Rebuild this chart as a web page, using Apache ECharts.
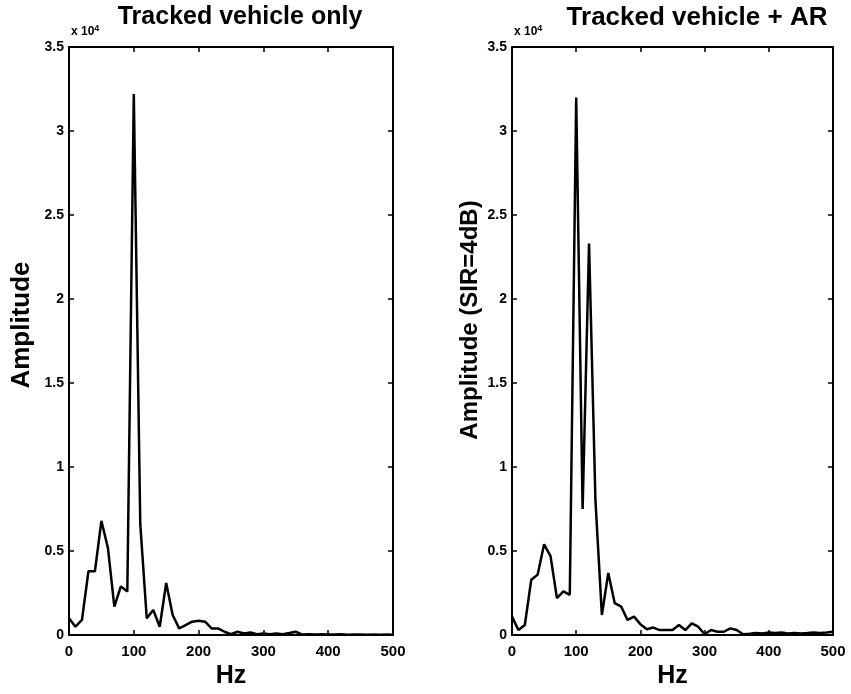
<!DOCTYPE html>
<html>
<head>
<meta charset="utf-8">
<script src="https://cdn.jsdelivr.net/npm/echarts@6/dist/echarts.min.js"></script>
<style>
  html, body { margin: 0; padding: 0; background: #fff; }
  #chart { width: 851px; height: 694px; }
</style>
</head>
<body>
<div id="chart"></div>
<script>
// frequency bins (Hz) and amplitudes in units of 10^4
const hz = [0,10,20,30,40,50,60,70,80,90,100,110,120,130,140,150,160,170,180,190,
  200,210,220,230,240,250,260,270,280,290,300,310,320,330,340,350,360,370,380,390,
  400,410,420,430,440,450,460,470,480,490,500];
const vehicleOnly = [0.1,0.05,0.09,0.38,0.38,0.68,0.52,0.17,0.29,0.26,3.22,0.66,0.1,0.15,0.05,0.31,0.12,0.04,0.06,0.08,
  0.085,0.08,0.04,0.04,0.02,0.005,0.02,0.01,0.015,0.005,0.01,0.005,0.01,0.005,0.012,0.02,0.003,0.005,0.003,0.005,
  0.004,0.003,0.005,0.002,0.003,0.004,0.002,0.003,0.002,0.003,0.002];
const vehicleAR = [0.11,0.03,0.06,0.33,0.36,0.54,0.47,0.22,0.26,0.24,3.2,0.75,2.33,0.8,0.12,0.37,0.19,0.17,0.09,0.11,
  0.065,0.035,0.045,0.03,0.03,0.03,0.06,0.03,0.07,0.05,0.005,0.03,0.02,0.02,0.04,0.03,0.005,0.008,0.012,0.01,
  0.015,0.012,0.015,0.01,0.012,0.01,0.012,0.015,0.012,0.015,0.02];
const xTicks = [0, 500, 100];
const yTicks = [0, 3.5, 0.5];
const titles = ['Tracked vehicle only', 'Tracked vehicle + AR'];
const yNames = ['Amplitude', 'Amplitude (SIR=4dB)'];

const font = 'Liberation Sans, Arial, sans-serif';
const grids = [
  { left: 69, width: 324, top: 47, height: 591 },
  { left: 512, width: 321, top: 47, height: 591 }
];
const line = { color: '#000', width: 2 };
const tick = { show: true, inside: true, length: 5, lineStyle: { color: '#000', width: 1.5 } };

const xAxis = [], yAxis = [], series = [];
grids.forEach((g, i) => {
  const base = { min: xTicks[0], max: xTicks[1], interval: xTicks[2], type: 'value', gridIndex: i,
    splitLine: { show: false }, axisLine: { onZero: false, lineStyle: line }, axisTick: tick };
  xAxis.push(Object.assign({}, base, {
    position: 'bottom', name: 'Hz', nameLocation: 'middle', nameGap: 28,
    nameTextStyle: { fontFamily: font, fontSize: 25, fontWeight: 'bold', color: '#000' },
    axisLabel: { margin: 9, fontFamily: font, fontSize: 15, fontWeight: 'bold', color: '#000' }
  }));
  xAxis.push(Object.assign({}, base, { position: 'top', axisLabel: { show: false } }));
  const ybase = { min: yTicks[0], max: yTicks[1], interval: yTicks[2], type: 'value', gridIndex: i,
    splitLine: { show: false }, axisLine: { onZero: false, lineStyle: line }, axisTick: tick };
  yAxis.push(Object.assign({}, ybase, {
    position: 'left',
    axisLabel: { margin: 5, fontFamily: font, fontSize: 14, fontWeight: 'bold', color: '#000' }
  }));
  yAxis.push(Object.assign({}, ybase, { position: 'right', axisLabel: { show: false } }));
});

[vehicleOnly, vehicleAR].forEach((vals, i) => {
  series.push({
    type: 'line', xAxisIndex: i * 2, yAxisIndex: i * 2,
    data: hz.map((h, k) => [h, vals[k]]),
    showSymbol: false, lineStyle: { color: '#000', width: 2.5 }, animation: false
  });
});

const textLabels = [];
grids.forEach((g, i) => {
  textLabels.push({
    type: 'text', left: g.left + 2, top: 24,
    style: { text: 'x 10{s|4}', fill: '#000', font: 'bold 12px ' + font,
      rich: { s: { fontSize: 9, fontWeight: 'bold', verticalAlign: 'top', padding: [0, 0, 6, 0] } } }
  });
  textLabels.push({
    type: 'text', x: i === 0 ? 22 : 470, y: i === 0 ? 325 : 320, rotation: Math.PI / 2,
    style: { text: yNames[i], fill: '#000', font: 'bold ' + (i === 0 ? 26 : 24) + 'px ' + font,
      align: 'center', verticalAlign: 'middle' }
  });
});

const chart = echarts.init(document.getElementById('chart'));
chart.setOption({
  animation: false,
  backgroundColor: '#fff',
  title: [
    { text: titles[0], left: 235, top: 0, textAlign: 'center',
      textStyle: { fontFamily: font, fontSize: 25, fontWeight: 'bold', color: '#000' } },
    { text: titles[1], left: 692, top: 0, textAlign: 'center',
      textStyle: { fontFamily: font, fontSize: 26, fontWeight: 'bold', color: '#000' } }
  ],
  graphic: textLabels,
  grid: grids,
  xAxis: xAxis,
  yAxis: yAxis,
  series: series
});
</script>
</body>
</html>
